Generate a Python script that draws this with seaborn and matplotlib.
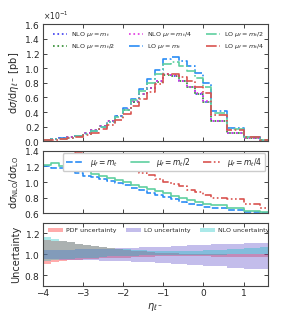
import numpy as np
import matplotlib
matplotlib.use("Agg")
import matplotlib.pyplot as plt
import seaborn as sns

# bin edges in eta of the lepton (0.2 wide, wider at the forward end)
edges = np.array([-4.0, -3.8, -3.6, -3.4, -3.2, -3.0, -2.8, -2.6, -2.4, -2.2, -2.0,
                  -1.8, -1.6, -1.4, -1.2, -1.0, -0.8, -0.6, -0.4, -0.2, 0.0, 0.2,
                  0.6, 1.0, 1.4, 1.6])

# d sigma / d eta in units of 1e-1 pb
nlo_mt = [0.018, 0.032, 0.047, 0.057, 0.078, 0.108, 0.154, 0.208, 0.273, 0.342, 0.432,
          0.544, 0.644, 0.731, 0.819, 0.915, 0.897, 0.825, 0.742, 0.651, 0.544,
          0.279, 0.115, 0.040, 0.009]
nlo_half = [0.017, 0.031, 0.046, 0.058, 0.077, 0.107, 0.152, 0.206, 0.271, 0.340, 0.430,
            0.540, 0.641, 0.728, 0.815, 0.910, 0.893, 0.820, 0.738, 0.647, 0.540,
            0.276, 0.113, 0.039, 0.009]
nlo_quarter = [0.018, 0.033, 0.048, 0.058, 0.079, 0.109, 0.156, 0.210, 0.275, 0.345, 0.436,
               0.548, 0.648, 0.735, 0.823, 0.918, 0.900, 0.828, 0.745, 0.654, 0.547,
               0.281, 0.116, 0.040, 0.009]
lo_mt = [0.015, 0.027, 0.040, 0.050, 0.070, 0.100, 0.145, 0.200, 0.270, 0.345, 0.450,
         0.585, 0.715, 0.850, 0.975, 1.130, 1.150, 1.100, 1.030, 0.930, 0.800,
         0.420, 0.180, 0.065, 0.015]
lo_half = [0.014, 0.025, 0.038, 0.047, 0.066, 0.094, 0.138, 0.191, 0.258, 0.332, 0.432,
           0.561, 0.685, 0.803, 0.920, 1.064, 1.081, 1.031, 0.964, 0.868, 0.745,
           0.393, 0.168, 0.0625, 0.0145]
lo_quarter = [0.0123, 0.0225, 0.0336, 0.0416, 0.0578, 0.0818, 0.119, 0.165, 0.222, 0.285, 0.369,
              0.477, 0.580, 0.677, 0.7875, 0.915, 0.925, 0.878, 0.824, 0.748, 0.655,
              0.353, 0.149, 0.056, 0.0134]

# uncertainty bands (relative)
pdf_up = [1.14, 1.13, 1.125, 1.12, 1.10, 1.09, 1.08, 1.07, 1.06, 1.05, 1.04, 1.035, 1.03,
          1.02, 1.015, 1.01, 1.01, 1.005, 1.0, 1.0, 1.0, 1.0, 1.0, 1.0, 1.0]
pdf_lo = [0.91, 0.93, 0.94, 0.945, 0.95, 0.955, 0.96, 0.965, 0.965, 0.97, 0.97, 0.975, 0.975,
          0.975, 0.98, 0.98, 0.98, 0.98, 0.98, 0.98, 0.98, 0.978, 0.978, 0.978, 0.978]
lo_band_up = [1.04, 1.04, 1.045, 1.045, 1.05, 1.05, 1.05, 1.055, 1.055, 1.06, 1.06, 1.06, 1.065,
              1.065, 1.07, 1.07, 1.075, 1.08, 1.085, 1.085, 1.09, 1.095, 1.10, 1.11, 1.11]
lo_band_lo = [0.955, 0.955, 0.95, 0.95, 0.95, 0.945, 0.945, 0.94, 0.94, 0.935, 0.935, 0.93, 0.93,
              0.925, 0.92, 0.915, 0.91, 0.905, 0.90, 0.895, 0.89, 0.885, 0.875, 0.865, 0.86]
nlo_band_up = [1.16, 1.15, 1.13, 1.12, 1.10, 1.09, 1.08, 1.07, 1.06, 1.05, 1.05, 1.04, 1.04,
               1.03, 1.03, 1.03, 1.03, 1.03, 1.03, 1.03, 1.04, 1.04, 1.05, 1.06, 1.07]
nlo_band_lo = [0.94, 0.95, 0.955, 0.96, 0.965, 0.97, 0.97, 0.975, 0.98, 0.98, 0.985, 0.985, 0.99,
               0.99, 0.99, 0.99, 0.99, 0.99, 0.99, 0.99, 0.99, 0.99, 1.0, 1.0, 1.0]


def ext(v):
    # repeat last value so steps-post closes the last bin
    v = np.asarray(v, dtype=float)
    return np.append(v, v[-1])


sns.set_style("ticks")
plt.rcParams['font.family'] = ['DejaVu Sans']
plt.rcParams['mathtext.fontset'] = 'dejavusans'
plt.rcParams['axes.formatter.use_mathtext'] = True
plt.rcParams['font.size'] = 6

fig = plt.figure(figsize=(2.82, 3.29), dpi=100)
ax1 = fig.add_axes([0.151, 0.5705, 0.798, 0.3556])
ax2 = fig.add_axes([0.151, 0.3517, 0.798, 0.190])
ax3 = fig.add_axes([0.151, 0.1307, 0.798, 0.1924])

c_nlo_mt, c_nlo_half, c_nlo_q = "#3b3bf0", "#2e8b2e", "#e033e0"
c_lo_mt, c_lo_half, c_lo_q = "#2a8cf5", "#5fcfa0", "#d9534f"

# top panel: distributions
top_series = [
    (nlo_mt, c_nlo_mt, ":", r"NLO $\mu_f = m_t$"),
    (nlo_half, c_nlo_half, ":", r"NLO $\mu_f = m_t/2$"),
    (nlo_quarter, c_nlo_q, ":", r"NLO $\mu_f = m_t/4$"),
    (lo_mt, c_lo_mt, "-.", r"LO $\mu_f = m_t$"),
    (lo_half, c_lo_half, "-.", r"LO $\mu_f = m_t/2$"),
    (lo_quarter, c_lo_q, "-.", r"LO $\mu_f = m_t/4$"),
]
for vals, col, ls, lab in top_series:
    sns.lineplot(x=edges, y=ext(vals) * 1e-1, ax=ax1, color=col, linestyle=ls,
                 drawstyle="steps-post", lw=1.2, label=lab, estimator=None, sort=False)
ax1.set_xlim(-4, 1.6)
ax1.set_ylim(0, 0.16)
ax1.set_yticks(np.arange(0, 0.161, 0.02))
ax1.ticklabel_format(axis='y', style='sci', scilimits=(0, 0))
ax1.yaxis.get_offset_text().set_fontsize(5.5)
ax1.set_ylabel(r"d$\sigma$/d$\eta_{\ell^-}$ [pb]", fontsize=7, labelpad=2)
ax1.legend(ncol=3, loc="upper left", fontsize=4.6, frameon=False, handlelength=2.2,
           columnspacing=2.2, handletextpad=0.6, labelspacing=0.5,
           bbox_to_anchor=(0.02, 1.0), borderaxespad=0.5)

# middle panel: K-factors
ratio_series = [
    (nlo_mt, lo_mt, c_lo_mt, (0, (4, 1.5)), r"$\mu_f = m_t$"),
    (nlo_half, lo_half, c_lo_half, "-", r"$\mu_f = m_t/2$"),
    (nlo_quarter, lo_quarter, c_lo_q, (0, (5, 1.5, 1, 1.5, 1, 1.5)), r"$\mu_f = m_t/4$"),
]
for n, l, col, ls, lab in ratio_series:
    r = np.asarray(n) / np.asarray(l)
    sns.lineplot(x=edges, y=ext(r), ax=ax2, color=col, linestyle=ls,
                 drawstyle="steps-post", lw=1.2, label=lab, estimator=None, sort=False)
ax2.set_xlim(-4, 1.6)
ax2.set_ylim(0.6, 1.4)
ax2.set_yticks([0.6, 0.8, 1.0, 1.2, 1.4])
ax2.set_ylabel(r"d$\sigma_{\rm NLO}$/d$\sigma_{\rm LO}$", fontsize=7, labelpad=2)
ax2.legend(ncol=3, loc="upper right", fontsize=5.5, frameon=True, handlelength=2.4,
           columnspacing=1.7, handletextpad=0.8, borderaxespad=0.3, borderpad=0.35,
           fancybox=True, edgecolor="#cccccc", framealpha=1.0)

# bottom panel: uncertainty bands
bands = [
    (pdf_lo, pdf_up, "red", 0.33, "PDF uncertainty"),
    (lo_band_lo, lo_band_up, "slateblue", 0.4, "LO uncertainty"),
    (nlo_band_lo, nlo_band_up, "c", 0.33, "NLO uncertainty"),
]
for lo_v, up_v, col, a, lab in bands:
    ax3.fill_between(edges, ext(lo_v), ext(up_v), step="post", color=col, alpha=a,
                     lw=0, label=lab)
ax3.set_xlim(-4, 1.6)
ax3.set_ylim(0.7, 1.3)
ax3.set_yticks([0.8, 1.0, 1.2])
ax3.set_ylabel("Uncertainty", fontsize=7, labelpad=2)
ax3.set_xlabel(r"$\eta_{\ell^-}$", fontsize=7, labelpad=2)
ax3.legend(ncol=3, loc="upper left", fontsize=4.5, frameon=False, handlelength=2.4,
           columnspacing=1.5, handletextpad=0.5, borderaxespad=0.4,
           bbox_to_anchor=(0.0, 1.0))

for ax in (ax1, ax2, ax3):
    ax.set_xticks([-4, -3, -2, -1, 0, 1])
    ax.tick_params(direction="in", top=True, right=True, labelsize=6.5, length=3,
                   width=0.6, pad=2)
    for s in ax.spines.values():
        s.set_color("#444444")
        s.set_linewidth(0.8)
ax1.set_xticklabels([])
ax2.set_xticklabels([])
ax3.set_xticklabels(["\u22124", "\u22123", "\u22122", "\u22121", "0", "1"])

fig.savefig("out.png", dpi=100)
